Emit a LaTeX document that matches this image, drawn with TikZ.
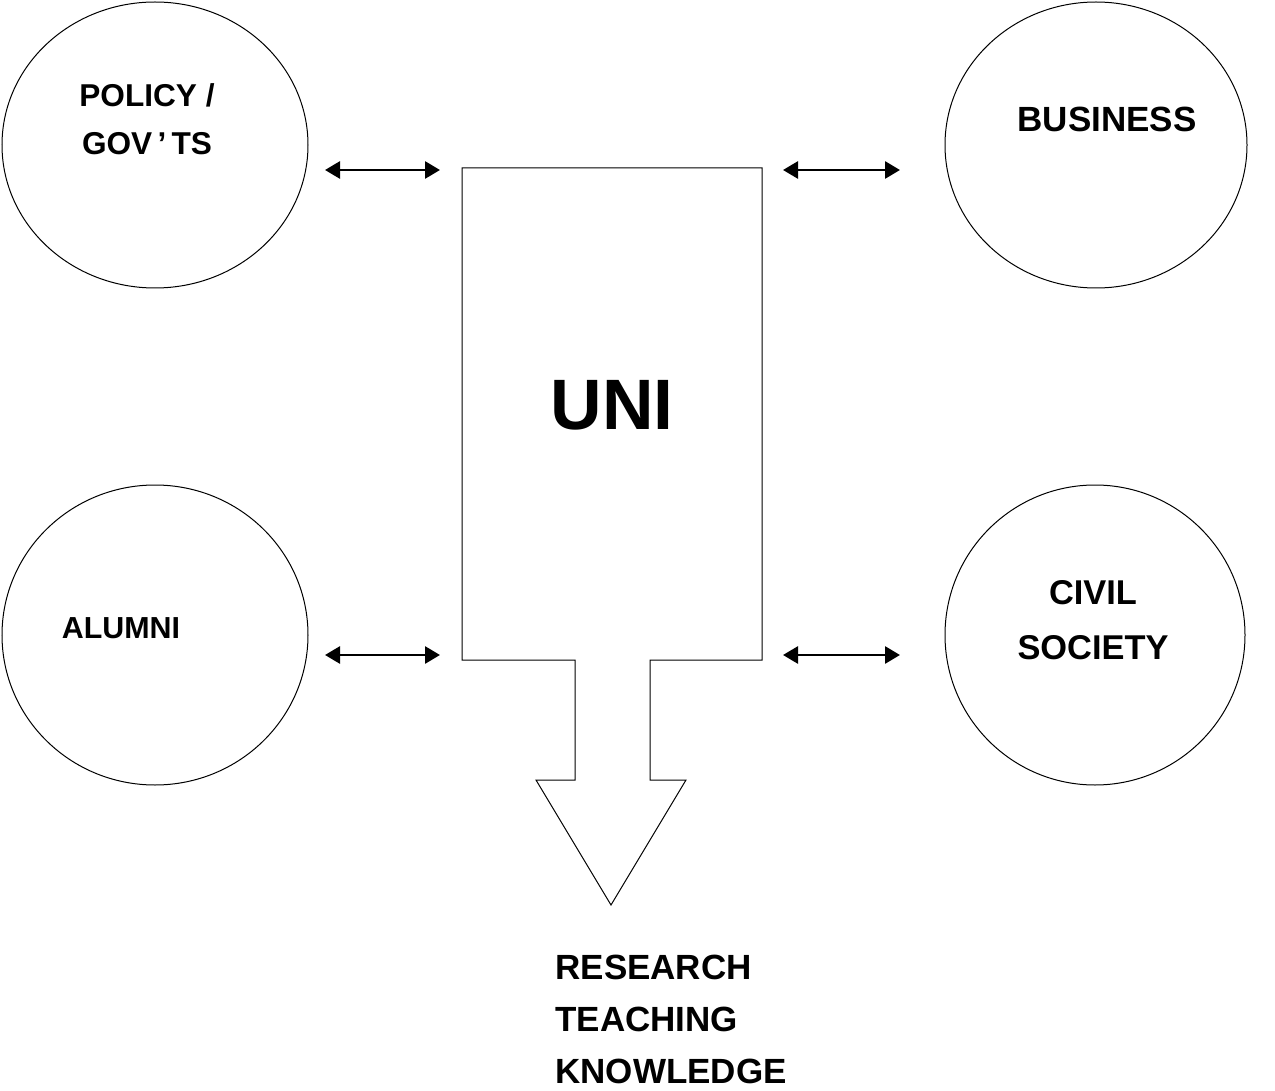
\documentclass[tikz,border=0pt]{standalone}
\usepackage{fontspec}
\setmainfont{Liberation Sans}
\usetikzlibrary{arrows.meta, shapes.geometric, positioning}

\begin{document}
\begin{tikzpicture}[x=0.5pt, y=-0.5pt]
\tikzset{partner/.style={
    draw, ellipse, line width=0.5pt, inner sep=0pt
  },
  lbl/.style={font=\bfseries\fontsize{17.5}{21}\selectfont, align=center, inner sep=0pt},
  link/.style={line width=1.4pt, {Triangle[length=7.5pt,width=8.5pt]}-{Triangle[length=7.5pt,width=8.5pt]}}
}

\useasboundingbox (0,0) rectangle (1275,1091);

% partners
\node[partner, minimum width=153pt, minimum height=143pt] (gov) at (155,145) {};
\node[partner, minimum width=151pt, minimum height=143pt] (bus) at (1096,145) {};
\node[partner, minimum width=153pt, minimum height=150pt] (alu) at (155,635) {};
\node[partner, minimum width=150pt, minimum height=150pt] (civ) at (1095,635) {};

\node[lbl, font=\bfseries\fontsize{15.8}{24}\selectfont] (govtxt) at (147,119) {POLICY /\\GOV\,\textquoteright\,TS};
\node[lbl] (bustxt) at (1107,119) {BUSINESS};
\node[lbl, font=\bfseries\fontsize{15.2}{18}\selectfont] (alutxt) at (121,628) {ALUMNI};
\node[lbl, font=\bfseries\fontsize{17.2}{27.5}\selectfont] (civtxt) at (1093,620) {CIVIL\\SOCIETY};

% the university with its output arrow
\draw[line width=0.5pt] (462,168) -- (762,168) -- (762,660) -- (650,660) -- (650,780)
  -- (686,780) -- (611,905) -- (536,780) -- (575,780) -- (575,660) -- (462,660) -- cycle;
\node[lbl, font=\bfseries\fontsize{35.7}{40}\selectfont] (uni) at (612,405) {UNI};

\node[lbl, align=left, anchor=north west, font=\bfseries\fontsize{17.5}{26}\selectfont] (out) at (555,955)
  {RESEARCH\\TEACHING\\KNOWLEDGE};

% links
\coordinate (gA) at (325,170);  \coordinate (gB) at (440,170);
\coordinate (bA) at (783,170);  \coordinate (bB) at (900,170);
\coordinate (aA) at (325,655);  \coordinate (aB) at (440,655);
\coordinate (cA) at (783,655);  \coordinate (cB) at (900,655);
\draw[link] (gA) -- (gB);
\draw[link] (bA) -- (bB);
\draw[link] (aA) -- (aB);
\draw[link] (cA) -- (cB);

\end{tikzpicture}
\end{document}
